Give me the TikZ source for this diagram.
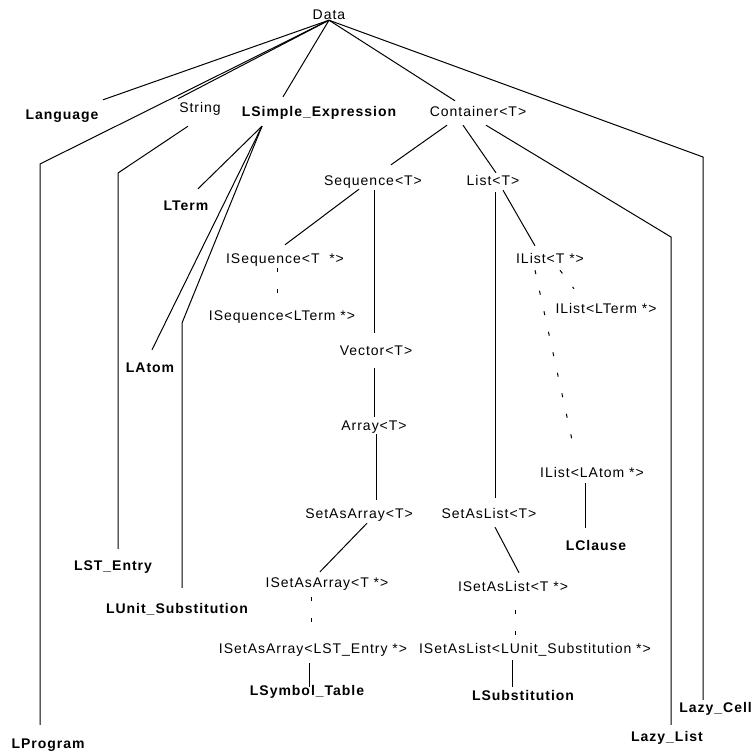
\documentclass[tikz,border=0pt]{standalone}
\usepackage{fontspec}
\setmainfont{Liberation Sans}[LetterSpace=7]
\begin{document}
\begin{tikzpicture}[x=1pt,y=-1pt,
    cls/.style={anchor=base,inner sep=0pt,text height=10pt,text depth=0pt,font=\fontsize{14}{16}\selectfont},
    leaf/.style={cls,font=\fontsize{14}{16}\selectfont\bfseries},
    isa/.style={line width=1pt},
    inst/.style={line width=1pt,dash pattern=on 4pt off 17pt}]
            \path[use as bounding box,clip] (0,0) rectangle (753,752);

            % 类和模板节点
            \node[cls] (data) at (329,20) {Data};
            \node[leaf] (language) at (62,120) {Language};
            \node[cls] (string) at (200,113) {String};
            \node[leaf] (lsimple) at (319,117) {LSimple\_Expression};
            \node[cls] (container) at (478,117) {Container<T>};
            \node[leaf] (lterm) at (186,210) {LTerm};
            \node[cls] (sequence) at (373,185) {Sequence<T>};
            \node[cls] (list) at (493,185) {List<T>};
            \node[cls] (iseqt) at (285,263) {ISequence<T~~*>};
            \node[cls] (ilistt) at (550,263) {IList<T *>};
            \node[cls] (iseqlterm) at (282,320) {ISequence<LTerm *>};
            \node[cls] (ilistlterm) at (606,313) {IList<LTerm *>};
            \node[cls] (vector) at (376,355) {Vector<T>};
            \node[leaf] (latom) at (150,372) {LAtom};
            \node[cls] (array) at (374,430) {Array<T>};
            \node[cls] (ilistlatom) at (592,477) {IList<LAtom *>};
            \node[cls] (setasarray) at (359,518) {SetAsArray<T>};
            \node[cls] (setaslist) at (489,518) {SetAsList<T>};
            \node[leaf] (lclause) at (596,550) {LClause};
            \node[leaf] (lstentry) at (113,570) {LST\_Entry};
            \node[cls] (isetasarrayt) at (327,587) {ISetAsArray<T *>};
            \node[cls] (isetaslistt) at (513,591) {ISetAsList<T *>};
            \node[leaf] (lunit) at (177,613) {LUnit\_Substitution};
            \node[cls] (isetasarraylst) at (313,653) {ISetAsArray<LST\_Entry *>};
            \node[cls] (isetaslistlunit) at (535,653) {ISetAsList<LUnit\_Substitution *>};
            \node[leaf] (lsymbol) at (307,695) {LSymbol\_Table};
            \node[leaf] (lsubst) at (523,700) {LSubstitution};
            \node[leaf,anchor=base east] (lazycell) at (752,712) {Lazy\_Cell};
            \node[leaf] (lazylist) at (667,741) {Lazy\_List};
            \node[leaf] (lprogram) at (48,748) {LProgram};

            % 折线的拐点
            \coordinate (pg) at (40,164);
            \coordinate (lc) at (703,157);
            \coordinate (ls) at (118,173);
            \coordinate (lu) at (182,323);
            \coordinate (ll) at (671,237);

            % 从 Data 出发的连线
            \draw[isa] (data.south) -- ([xshift=41pt,yshift=10pt]language.north);
            \draw[isa,shorten >=13pt] (data.south) -- (pg) -- (pg |- lprogram.north);
            \draw[isa] (data.south) -- ([xshift=-22pt,yshift=4pt]string.north);
            \draw[isa] (data.south) -- ([xshift=-36pt,yshift=10pt]lsimple.north);
            \draw[isa] (data.south) -- ([xshift=-23pt,yshift=6pt]container.north);
            \draw[isa,shorten >=2pt] (data.south) -- (lc) -- (lc |- lazycell.north);

            % String 和 LSimple_Expression
            \draw[isa,shorten >=11pt] ([xshift=-12pt,yshift=-13pt]string.south) -- (ls) -- (ls |- lstentry.north);
            \draw[isa] ([xshift=-57pt,yshift=-9pt]lsimple.south) -- ([xshift=12pt,yshift=11pt]lterm.north);
            \draw[isa] ([xshift=-57pt,yshift=-9pt]lsimple.south) -- ([xshift=2pt,yshift=12pt]latom.north);
            \draw[isa,shorten >=15pt] ([xshift=-57pt,yshift=-9pt]lsimple.south) -- (lu) -- (lu |- lunit.north);

            % Container<T> 下面的一支
            \draw[isa] ([xshift=-31pt,yshift=-8pt]container.south) -- ([xshift=18pt,yshift=10pt]sequence.north);
            \draw[isa] ([xshift=-15pt,yshift=-8pt]container.south) -- ([xshift=3pt,yshift=2pt]list.north);
            \draw[isa,shorten >=6pt] ([xshift=8pt,yshift=-8pt]container.south) -- (ll) -- (ll |- lazylist.north);

            \draw[isa] ([xshift=-14pt,yshift=-4pt]sequence.south) -- ([yshift=8pt]iseqt.north);
            \draw[isa] ([xshift=1pt,yshift=-5pt]sequence.south) -- ([xshift=-2pt,yshift=12pt]vector.north);
            \draw[inst] ([xshift=-8pt,yshift=-5pt]iseqt.south) -- ([xshift=-5pt,yshift=15pt]iseqlterm.north);
            \draw[isa] ([xshift=-2pt,yshift=-13pt]vector.south) -- ([yshift=3pt]array.north);
            \draw[isa] ([xshift=2pt,yshift=-4pt]array.south) -- ([xshift=17pt,yshift=8pt]setasarray.north);

            \draw[isa] ([xshift=2pt,yshift=-7pt]list.south) -- ([xshift=6pt,yshift=10pt]setaslist.north);
            \draw[isa] ([xshift=10pt,yshift=-5pt]list.south) -- ([xshift=-15pt,yshift=7pt]ilistt.north);
            \draw[inst] ([xshift=10pt,yshift=-7pt]ilistt.south) -- ([xshift=-32pt,yshift=14pt]ilistlterm.north);
            \draw[inst] ([xshift=-15pt,yshift=-7pt]ilistt.south) -- ([xshift=-20pt,yshift=27pt]ilistlatom.north);
            \draw[isa] ([xshift=-7pt,yshift=-6pt]ilistlatom.south) -- ([xshift=-11pt,yshift=12pt]lclause.north);

            % 集合模板的实例化
            \draw[isa] ([xshift=8pt,yshift=-5pt]setasarray.south) -- ([xshift=-7pt,yshift=5pt]isetasarrayt.north);
            \draw[isa] ([xshift=6pt,yshift=-9pt]setaslist.south) -- ([xshift=6pt,yshift=8pt]isetaslistt.north);
            \draw[inst] ([xshift=-16pt,yshift=-10pt]isetasarrayt.south) -- ([xshift=-2pt,yshift=20pt]isetasarraylst.north);
            \draw[inst] ([xshift=2pt,yshift=-19pt]isetaslistt.south) -- ([xshift=-20pt,yshift=6pt]isetaslistlunit.north);
            \draw[isa] ([xshift=-4pt,yshift=-10pt]isetasarraylst.south) -- ([xshift=2pt,yshift=-2pt]lsymbol.north);
            \draw[isa] ([xshift=-23pt,yshift=-7pt]isetaslistlunit.south) -- ([xshift=-11pt,yshift=3pt]lsubst.north);

        \end{tikzpicture}
\end{document}
